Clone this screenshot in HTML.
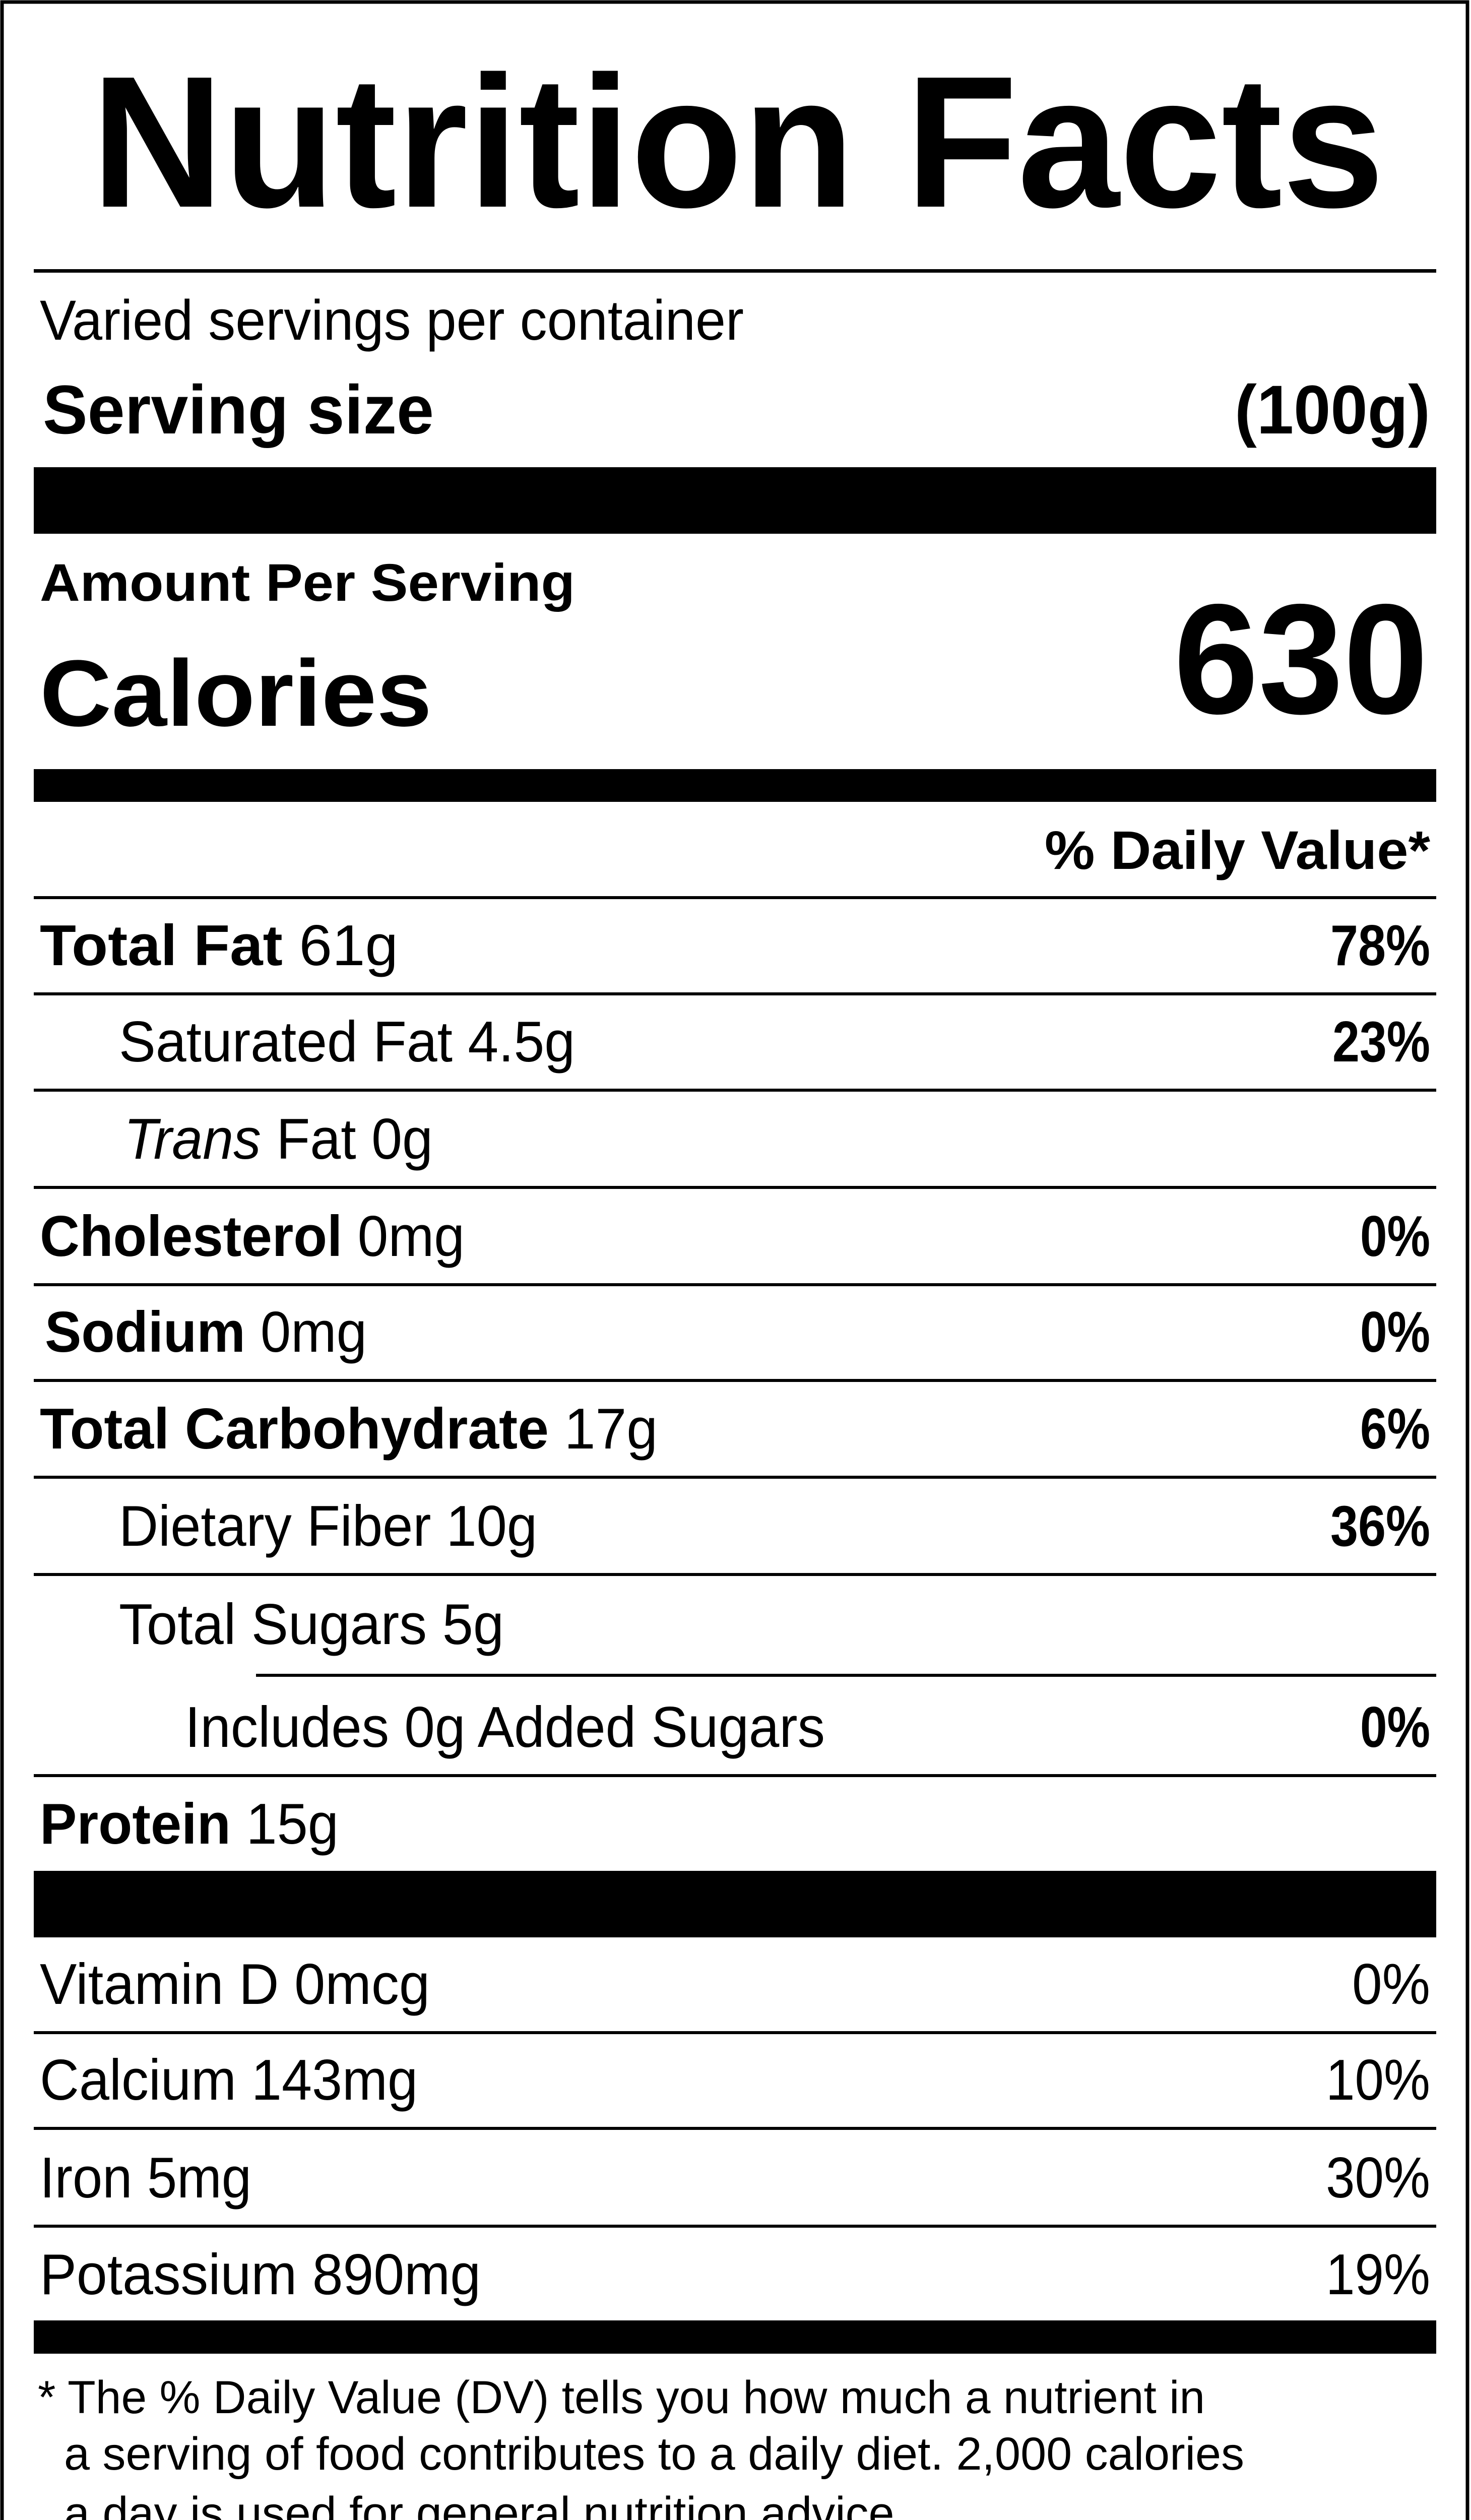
<!DOCTYPE html>
<html><head><meta charset="utf-8"><style>
html,body{margin:0;padding:0;background:#fff;overflow:hidden;width:2919px;height:5120px}
svg{display:block}
text{font-family:"Liberation Sans",Arial,sans-serif;fill:#000}
.b{font-weight:bold}
</style></head><body>
<svg width="2919" height="5120" viewBox="0 0 2919 5120" xmlns="http://www.w3.org/2000/svg">
<rect x="0" y="0" width="2919" height="5120" fill="#fff"/>
<rect x="4" y="4" width="2908" height="5110" fill="none" stroke="#000" stroke-width="7"/>
<text class="b" x="181" y="410" font-size="372" textLength="2566" lengthAdjust="spacingAndGlyphs">Nutrition Facts</text>
<rect x="67" y="534" width="2783" height="7"/>
<text x="79" y="674" font-size="112" textLength="1397" lengthAdjust="spacingAndGlyphs">Varied servings per container</text>
<text class="b" x="85" y="860" font-size="137" textLength="776" lengthAdjust="spacingAndGlyphs">Serving size</text>
<text class="b" x="2838" y="860" font-size="137" text-anchor="end" textLength="388" lengthAdjust="spacingAndGlyphs">(100g)</text>
<rect x="67" y="927" width="2783" height="132"/>
<text class="b" x="79" y="1192" font-size="105" textLength="1062" lengthAdjust="spacingAndGlyphs">Amount Per Serving</text>
<text class="b" x="79" y="1440" font-size="187" textLength="778" lengthAdjust="spacingAndGlyphs">Calories</text>
<text class="b" x="2834" y="1415" font-size="311" text-anchor="end" textLength="505" lengthAdjust="spacingAndGlyphs">630</text>
<rect x="67" y="1526" width="2783" height="65"/>
<text class="b" x="2838" y="1724" font-size="108" text-anchor="end" textLength="765" lengthAdjust="spacingAndGlyphs">% Daily Value*</text>
<rect x="67" y="1778" width="2783" height="6"/>

<text x="79" y="1915" font-size="114" textLength="711" lengthAdjust="spacingAndGlyphs"><tspan class="b">Total Fat</tspan> 61g</text>
<text class="b" x="2838" y="1915" font-size="114" text-anchor="end" textLength="198" lengthAdjust="spacingAndGlyphs">78%</text>
<rect x="67" y="1969" width="2783" height="6"/>

<text x="236" y="2106" font-size="114" textLength="905" lengthAdjust="spacingAndGlyphs">Saturated Fat 4.5g</text>
<text class="b" x="2838" y="2106" font-size="114" text-anchor="end" textLength="194" lengthAdjust="spacingAndGlyphs">23%</text>
<rect x="67" y="2160" width="2783" height="6"/>

<text x="246" y="2299" font-size="114" textLength="613" lengthAdjust="spacingAndGlyphs"><tspan font-style="italic">Trans</tspan> Fat 0g</text>
<rect x="67" y="2353" width="2783" height="6"/>

<text x="79" y="2492" font-size="114" textLength="843" lengthAdjust="spacingAndGlyphs"><tspan class="b">Cholesterol</tspan> 0mg</text>
<text class="b" x="2838" y="2492" font-size="114" text-anchor="end" textLength="139" lengthAdjust="spacingAndGlyphs">0%</text>
<rect x="67" y="2546" width="2783" height="6"/>

<text x="89" y="2682" font-size="114" textLength="639" lengthAdjust="spacingAndGlyphs"><tspan class="b">Sodium</tspan> 0mg</text>
<text class="b" x="2838" y="2682" font-size="114" text-anchor="end" textLength="139" lengthAdjust="spacingAndGlyphs">0%</text>
<rect x="67" y="2736" width="2783" height="6"/>

<text x="79" y="2874" font-size="114" textLength="1226" lengthAdjust="spacingAndGlyphs"><tspan class="b">Total Carbohydrate</tspan> 17g</text>
<text class="b" x="2838" y="2874" font-size="114" text-anchor="end" textLength="139" lengthAdjust="spacingAndGlyphs">6%</text>
<rect x="67" y="2928" width="2783" height="6"/>

<text x="236" y="3067" font-size="114" textLength="830" lengthAdjust="spacingAndGlyphs">Dietary Fiber 10g</text>
<text class="b" x="2838" y="3067" font-size="114" text-anchor="end" textLength="198" lengthAdjust="spacingAndGlyphs">36%</text>
<rect x="67" y="3121" width="2783" height="6"/>

<text x="236" y="3262" font-size="114" textLength="764" lengthAdjust="spacingAndGlyphs">Total Sugars 5g</text>
<rect x="508" y="3321" width="2342" height="6"/>

<text x="367" y="3466" font-size="114" textLength="1270" lengthAdjust="spacingAndGlyphs">Includes 0g Added Sugars</text>
<text class="b" x="2838" y="3466" font-size="114" text-anchor="end" textLength="139" lengthAdjust="spacingAndGlyphs">0%</text>
<rect x="67" y="3520" width="2783" height="6"/>

<text x="79" y="3658" font-size="114" textLength="593" lengthAdjust="spacingAndGlyphs"><tspan class="b">Protein</tspan> 15g</text>
<rect x="67" y="3712" width="2783" height="132"/>

<text x="79" y="3976" font-size="114" textLength="774" lengthAdjust="spacingAndGlyphs">Vitamin D 0mcg</text>
<text x="2838" y="3976" font-size="114" text-anchor="end" textLength="155" lengthAdjust="spacingAndGlyphs">0%</text>
<rect x="67" y="4030" width="2783" height="6"/>

<text x="79" y="4166" font-size="114" textLength="750" lengthAdjust="spacingAndGlyphs">Calcium 143mg</text>
<text x="2838" y="4166" font-size="114" text-anchor="end" textLength="207" lengthAdjust="spacingAndGlyphs">10%</text>
<rect x="67" y="4220" width="2783" height="6"/>

<text x="79" y="4360" font-size="114" textLength="420" lengthAdjust="spacingAndGlyphs">Iron 5mg</text>
<text x="2838" y="4360" font-size="114" text-anchor="end" textLength="207" lengthAdjust="spacingAndGlyphs">30%</text>
<rect x="67" y="4414" width="2783" height="6"/>

<text x="79" y="4552" font-size="114" textLength="875" lengthAdjust="spacingAndGlyphs">Potassium 890mg</text>
<text x="2838" y="4552" font-size="114" text-anchor="end" textLength="207" lengthAdjust="spacingAndGlyphs">19%</text>
<rect x="67" y="4604" width="2783" height="66"/>

<text x="75" y="4788" font-size="92" textLength="2316" lengthAdjust="spacingAndGlyphs">* The % Daily Value (DV) tells you how much a nutrient in</text>
<text x="127" y="4900" font-size="92" textLength="2342" lengthAdjust="spacingAndGlyphs">a serving of food contributes to a daily diet. 2,000 calories</text>
<text x="127" y="5018" font-size="92" textLength="1673" lengthAdjust="spacingAndGlyphs">a day is used for general nutrition advice.</text>
</svg>
</body></html>
